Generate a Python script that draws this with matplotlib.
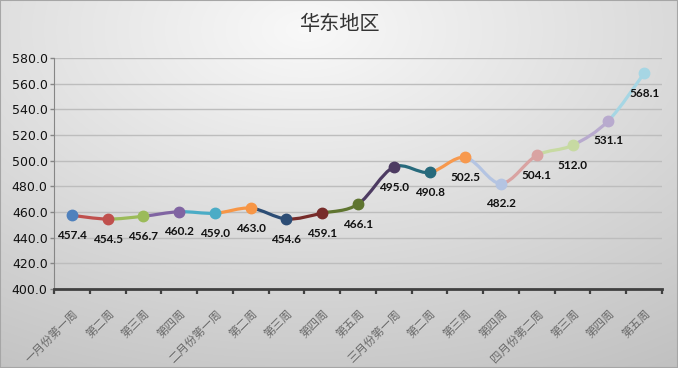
import matplotlib
matplotlib.use('Agg')
import matplotlib.pyplot as plt
import numpy as np
from matplotlib.path import Path
from matplotlib.patches import PathPatch, Rectangle

plt.rcParams['font.family'] = ['Noto Sans CJK SC', 'DejaVu Sans']

title = '华东地区'
weeks = ['一月份第一周', '第二周', '第三周', '第四周',
         '二月份第一周', '第二周', '第三周', '第四周', '第五周',
         '三月份第一周', '第二周', '第三周', '第四周',
         '四月份第二周', '第三周', '第四周', '第五周']
prices = [457.4, 454.5, 456.7, 460.2, 459.0, 463.0, 454.6, 459.1, 466.1,
          495.0, 490.8, 502.5, 482.2, 504.1, 512.0, 531.1, 568.1]
colors = ['#4F81BD', '#C0504D', '#9BBB59', '#8064A2', '#4BACC6', '#F79646',
          '#2C4D75', '#772C2A', '#5F7530', '#4D3B62', '#276A7C', '#F7994E',
          '#B4C4E2', '#D9A3A2', '#C7DAA2', '#B8AACE', '#A6D6E4']

W, H = 678, 368
fig = plt.figure(figsize=(W / 100, H / 100), dpi=100)

# background gradient
bg = fig.add_axes([0, 0, 1, 1], zorder=-10)
yy, xx = np.mgrid[0:H, 0:W]
d = np.sqrt(((xx - 0.45 * W) / W) ** 2 + ((yy - 0.08 * H) / (H * 1.1)) ** 2)
shade = np.clip(0.975 - 0.22 * d, 0.74, 1.0)
bg.imshow(np.dstack([shade] * 3), aspect='auto', extent=(0, 1, 0, 1))
bg.add_patch(Rectangle((0, 0), 1, 1, transform=bg.transAxes, fill=False,
                       edgecolor='#A6A6A6', linewidth=1.5))
bg.set_axis_off()

ax = fig.add_axes([54 / W, (H - 289) / H, (662 - 54) / W, (289 - 58) / H])
ax.patch.set_alpha(0)
x = np.arange(len(prices))
y = np.array(prices)

# smoothed segments, each coloured like the point it ends on
px = np.concatenate([[x[0]], x, [x[-1]]])
py = np.concatenate([[y[0]], y, [y[-1]]])
for i in range(len(x) - 1):
    p0 = (px[i], py[i])
    p1 = (px[i + 1], py[i + 1])
    p2 = (px[i + 2], py[i + 2])
    p3 = (px[i + 3], py[i + 3])
    c1 = (p1[0] + (p2[0] - p0[0]) / 6, p1[1] + (p2[1] - p0[1]) / 6)
    c2 = (p2[0] - (p3[0] - p1[0]) / 6, p2[1] - (p3[1] - p1[1]) / 6)
    path = Path([p1, c1, c2, p2], [Path.MOVETO, Path.CURVE4, Path.CURVE4, Path.CURVE4])
    ax.add_patch(PathPatch(path, facecolor='none', edgecolor=colors[i + 1],
                           linewidth=2.3, capstyle='round', zorder=3))

for i in range(len(x)):
    ax.plot(x[i], y[i], 'o', color=colors[i], markersize=7.5, zorder=4)
    ax.annotate(f'{prices[i]:.1f}', (x[i], y[i]), xytext=(0, -14.5),
                textcoords='offset points', ha='center', va='center',
                fontsize=8.5, family=['Lato', 'DejaVu Sans'], fontweight='bold',
                color='#111111', zorder=5)

ax.set_xlim(-0.5, len(x) - 0.5)
ax.set_ylim(400, 580)
ax.set_yticks(np.arange(400, 581, 20))
ax.set_yticklabels([f'{v:.1f}' for v in np.arange(400, 581, 20)],
                   family=['DejaVu Sans'], fontsize=9, color='#111111')
ax.yaxis.grid(True, color='#BDBDBD', linewidth=1)
ax.set_axisbelow(True)

ax.set_xticks(x)
ax.set_xticklabels(weeks, rotation=45, ha='right', rotation_mode='anchor',
                   fontsize=8.3, color='#6A6A6A')
ax.set_xticks(np.arange(-0.5, len(x), 1), minor=True)
ax.tick_params(axis='x', which='major', length=0, pad=13)
ax.tick_params(axis='x', which='minor', length=3.5, width=1.6, color='#404040', direction='out')
ax.tick_params(axis='y', length=3, width=1, color='#868686', pad=1.5)

for s in ['top', 'right']:
    ax.spines[s].set_visible(False)
ax.spines['left'].set_color('#868686')
ax.spines['bottom'].set_color('#404040')
ax.spines['bottom'].set_linewidth(2)

fig.text(0.5, (H - 24) / H, title, ha='center', va='center', fontsize=14.5,
         color='#333333', fontweight='medium')

fig.savefig('out.png', dpi=100)
